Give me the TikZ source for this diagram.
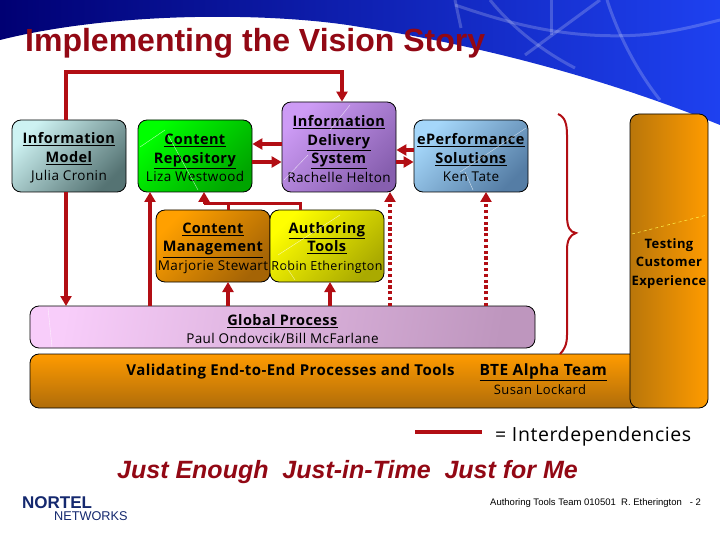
\documentclass[tikz,border=0pt]{standalone}
\usepackage{fontspec}
\setmainfont[LetterSpace=3]{Open Sans}
\newfontfamily\arialfont{Liberation Sans}
\usetikzlibrary{arrows.meta}
\definecolor{LinkRed}{RGB}{178,14,20}
\definecolor{TitleRed}{RGB}{146,8,20}
\definecolor{NortelBlue}{RGB}{20,40,110}
\newcommand{\head}[1]{\underline{\textbf{\fontsize{14.5}{18.5}\selectfont #1}}}
\newcommand{\drop}{\rule{0pt}{15pt}}
\tikzset{
  teambox/.style={draw=black,line width=0.8pt,rounded corners=9pt,inner sep=0pt,
    align=center,font=\fontsize{13.5}{18.5}\selectfont},
  link/.style={draw=LinkRed,line width=3.2pt,-{Triangle[width=11pt,length=10pt]}},
  dotlink/.style={link,dash pattern=on 3.2pt off 2.6pt},
  glint/.style={white,opacity=0.7,line width=0.4pt},
  swirl/.style={white,opacity=0.2,line width=3pt},
}
\begin{document}
\begin{tikzpicture}[x=1pt,y=-1pt]
\useasboundingbox (0,0) rectangle (720,540);
% banner
\begin{scope}
\clip (0,0) -- (720,0) -- (720,125)
  .. controls (610,80) and (480,45) .. (360,27)
  .. controls (280,13) and (120,10) .. (0,40) -- cycle;
\shade[left color=blue!45!black,right color={rgb,255:red,30;green,65;blue,240},shading angle=90]
  (0,0) rectangle (720,125);
\draw[swirl] (455,5) .. controls (500,20) and (560,40) .. (640,35)
  .. controls (670,33) and (700,25) .. (720,20);
\draw[swirl] (455,0) -- (461,28);
\draw[swirl] (490,0) .. controls (510,25) and (540,50) .. (575,68);
\draw[swirl] (600,0) -- (525,55);
\draw[swirl] (607,0) .. controls (620,40) and (640,75) .. (660,100);
\draw[swirl] (551,0) -- (551,35);
\end{scope}
\node[anchor=west,inner sep=0pt,text=TitleRed,font=\arialfont\bfseries\fontsize{32}{32}\selectfont]
  (title) at (25,43) {Implementing the Vision Story};
% team boxes
\node[teambox,minimum width=114pt,minimum height=72pt,left color={rgb,255:red,205;green,242;blue,242},right color={rgb,255:red,85;green,115;blue,115},shading angle=45]
  (infomodel) at (69,156) {\drop\head{Information}\\\head{Model}\\Julia Cronin};
\node[teambox,minimum width=114pt,minimum height=72pt,left color={rgb,255:red,0;green,255;blue,0},right color={rgb,255:red,0;green,165;blue,0},shading angle=45]
  (repository) at (195,156) {\drop\head{Content}\\\head{Repository}\\Liza Westwood};
\node[teambox,minimum width=114pt,minimum height=90pt,left color={rgb,255:red,205;green,155;blue,245},right color={rgb,255:red,135;green,95;blue,175},shading angle=45]
  (delivery) at (339,147) {\drop\head{Information}\\\head{Delivery}\\\head{System}\\Rachelle Helton};
\node[teambox,minimum width=114pt,minimum height=72pt,left color={rgb,255:red,165;green,215;blue,250},right color={rgb,255:red,85;green,125;blue,165},shading angle=45]
  (eperf) at (471,156) {\drop\head{ePerformance}\\\head{Solutions}\\Ken Tate};
\node[teambox,minimum width=114pt,minimum height=72pt,left color={rgb,255:red,255;green,160;blue,0},right color={rgb,255:red,165;green,100;blue,5},shading angle=45]
  (management) at (213,246) {\drop\head{Content}\\\head{Management}\\Marjorie Stewart};
\node[teambox,minimum width=114pt,minimum height=72pt,left color={rgb,255:red,255;green,255;blue,0},right color={rgb,255:red,170;green,170;blue,0},shading angle=45]
  (authoring) at (327,246) {\drop\head{Authoring}\\\head{Tools}\\{\fontsize{12.5}{18.5}\selectfont Robin Etherington}};
\node[teambox,minimum width=505pt,minimum height=42pt,left color={rgb,255:red,248;green,205;blue,250},right color={rgb,255:red,190;green,150;blue,190},shading angle=80]
  (global) at (282.5,327) {\drop\head{Global Process}\\Paul Ondovcik/Bill McFarlane};
\node[teambox,minimum width=610pt,minimum height=54pt,top color={rgb,255:red,255;green,155;blue,0},bottom color={rgb,255:red,175;green,108;blue,10}]
  (validating) at (335,381) {};
\node[teambox,font=\bfseries\fontsize{13}{18.5}\selectfont,minimum width=78pt,minimum height=294pt,left color={rgb,255:red,185;green,118;blue,10},right color={rgb,255:red,255;green,155;blue,0}]
  (testing) at (669,261) {\drop Testing\\Customer\\Experience};
\node[font=\bfseries\fontsize{15}{18}\selectfont,inner sep=0pt] (validtext) at (290.5,372) {Validating End-to-End Processes and Tools};
\node[font=\fontsize{15.5}{18}\selectfont,inner sep=0pt] (alpha) at (543.5,372) {\underline{\textbf{BTE Alpha Team}}};
\node[font=\fontsize{13}{18}\selectfont,inner sep=0pt] (lockard) at (540,390) {Susan Lockard};
% glints
\draw[glint] (140,147) -- (165,130) (168,135) -- (198,190);
\draw[glint] (284,180) -- (308,155) (330,130) -- (350,105);
\draw[glint] (460,172) -- (526,128) (465,172) -- (473,190);
\draw[glint] (278,255) -- (340,215) (285,265) -- (295,280);
\draw[glint] (48,308) -- (52,347);
\draw[yellow!70!white,line width=0.5pt,dashed] (632,234) -- (707,215);
% links
\coordinate (topleft) at (66,72);
\coordinate (topright) at (342,72);
\draw[link] ([xshift=-3pt]infomodel.north) -- (topleft) -- (topright) -- ([xshift=3pt]delivery.north);
\draw[link] ([yshift=12pt]repository.east -| delivery.west) -- ([yshift=12pt]repository.east);
\draw[link] ([yshift=-6pt]repository.east) -- ([yshift=-6pt]repository.east -| delivery.west);
\draw[link] ([yshift=6pt]eperf.west) -- ([yshift=6pt]eperf.west -| delivery.east);
\draw[link] ([yshift=-6pt]eperf.west -| delivery.east) -- ([yshift=-6pt]eperf.west);
\draw[link] ([xshift=-3pt]infomodel.south) -- (66,306);
\draw[link] (150,306) -- (150,192);
\coordinate (bendright) at (300,204);
\coordinate (bendleft) at (204,204);
\draw[draw=LinkRed,line width=3pt] (228,210) -- (228,204);
\draw[draw=LinkRed,line width=3pt] (300,210) -- (bendright) -- (bendleft);
\draw[link,line width=3pt] (bendleft) -- (204,192);
\draw[link] (228,306) -- (228,282);
\draw[link] (330,306) -- (330,282);
\draw[dotlink] (390,306) -- (390,192);
\draw[dotlink] (486,306) -- (486,192);
% brace
\draw[LinkRed,line width=2pt] (558,114) .. controls (565,117) and (567,124) .. (567,135) -- (567,215)
  .. controls (567,228) and (570,232) .. (576,233) .. controls (570,235) and (567,240) .. (567,250)
  -- (567,335) .. controls (567,345) and (564,350) .. (560,354);
% legend and footer
\coordinate (legendleft) at (415,432);
\coordinate (legendright) at (482,432);
\draw[LinkRed,line width=4pt] (legendleft) -- (legendright);
\node[anchor=west,inner sep=0pt,font=\fontsize{19.5}{20}\selectfont] (legend) at (495,436) {= Interdependencies};
\node[anchor=west,inner sep=0pt,text=TitleRed,font=\arialfont\bfseries\itshape\fontsize{25}{25}\selectfont]
  (just) at (117,472) {Just Enough\ \ Just-in-Time\ \ Just for Me};
\node[anchor=west,inner sep=0pt,font=\arialfont\fontsize{9.5}{10}\selectfont] (footer) at (490,503) {Authoring Tools Team 010501\ \ R. Etherington\ \ \ - 2};
\node[anchor=west,inner sep=0pt,text=NortelBlue,font=\arialfont\bfseries\fontsize{17}{17}\selectfont] (nortel) at (22,503) {NORTEL};
\node[anchor=west,inner sep=0pt,text=NortelBlue,font=\arialfont\fontsize{12.7}{13}\selectfont] (networks) at (54,516) {NETWORKS};
\end{tikzpicture}
\end{document}
